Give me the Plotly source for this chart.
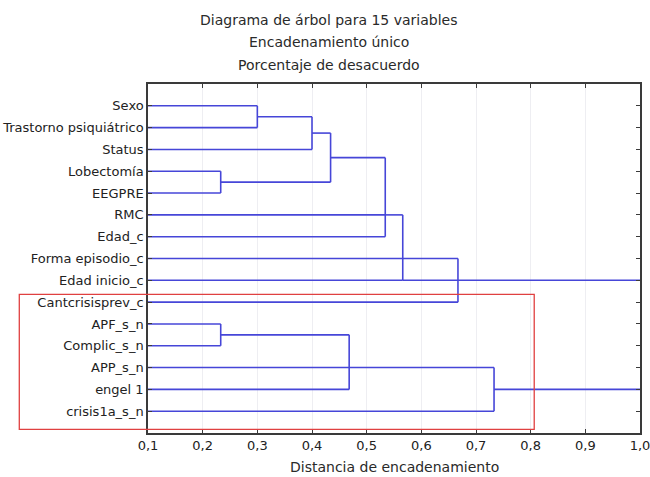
import plotly.graph_objects as go

# ---- data ----
labels = ["Sexo", "Trastorno psiquiátrico", "Status", "Lobectomía", "EEGPRE",
          "RMC", "Edad_c", "Forma episodio_c", "Edad inicio_c", "Cantcrisisprev_c",
          "APF_s_n", "Complic_s_n", "APP_s_n", "engel 1", "crisis1a_s_n"]
# merges (node ids: leaves 0..14, then 15, 16, ... in order of this list)
merge_children = [[0, 1], [15, 2], [3, 4], [16, 17], [18, 5, 6], [19, 8],
                  [20, 7, 9], [10, 11], [22, 12, 13], [23, 14]]
merge_h = [0.30, 0.40, 0.233, 0.434, 0.534, 0.566, 0.667,
           0.233, 0.468, 0.733]
x_ticks = [0.1, 0.2, 0.3, 0.4, 0.5, 0.6, 0.7, 0.8, 0.9, 1.0]
x_ticktext = ["0,1", "0,2", "0,3", "0,4", "0,5", "0,6", "0,7", "0,8", "0,9", "1,0"]
title_lines = ["Diagrama de árbol para 15 variables", "Encadenamiento único",
               "Porcentaje de desacuerdo"]
x_title = "Distancia de encadenamiento"
x_min, x_max = 0.1, 1.0

# ---- build segments (Statistica-like tree drawing) ----
n = len(labels)
ypos = {i: float(i) for i in range(n)}
xpos = {i: x_min for i in range(n)}
members = {i: {i} for i in range(n)}
roots = set(range(n))
xs, ys = [], []
for k, (ch, h) in enumerate(zip(merge_children, merge_h)):
    node = n + k
    for c in ch:
        xs += [xpos[c], h, None]
        ys += [ypos[c], ypos[c], None]
        roots.discard(c)
    cy = [ypos[c] for c in ch]
    xs += [h, h, None]
    ys += [min(cy), max(cy), None]
    mem = set().union(*[members[c] for c in ch])
    contiguous = (max(mem) - min(mem) + 1) == len(mem)
    if len(ch) == 2:
        ypos[node] = (cy[0] + cy[1]) / 2 if contiguous else max(cy)
    else:
        ypos[node] = sorted(cy)[len(cy) // 2]
    xpos[node] = h
    members[node] = mem
    roots.add(node)
# remaining clusters join beyond the axis limit
for r in sorted(roots):
    xs += [xpos[r], x_max, None]
    ys += [ypos[r], ypos[r], None]

LINE = "#4646D8"
fig = go.Figure()
fig.add_trace(go.Scatter(x=xs, y=ys, mode="lines",
                         line=dict(color=LINE, width=1.6),
                         hoverinfo="skip", showlegend=False))

axis_common = dict(showline=True, linecolor="#3a3a3a", linewidth=1.5, mirror="ticks",
                   ticks="inside", ticklen=4, tickcolor="#3a3a3a", tickwidth=1,
                   layer="above traces", zeroline=False, automargin=False,
                   ticklabeloverflow="allow",
                   tickfont=dict(family="DejaVu Sans", size=13, color="#222222"))

fig.update_layout(
    width=650, height=477,
    margin=dict(l=148, r=10, t=84, b=44),
    paper_bgcolor="white", plot_bgcolor="white",
    xaxis=dict(range=[x_min, x_max], tickvals=x_ticks, ticktext=x_ticktext,
               showgrid=True, gridcolor="#EEEEF2", gridwidth=1, **axis_common),
    yaxis=dict(range=[15, -1], tickvals=list(range(n)), ticktext=labels,
               showgrid=False, **axis_common),
    font=dict(family="DejaVu Sans", color="#222222"),
)

# title lines
title_y = [1.1834, 1.1195, 1.0544]
for t, yy in zip(title_lines, title_y):
    fig.add_annotation(text=t, xref="paper", yref="paper", x=0.368, y=yy,
                       xanchor="center", yanchor="middle", showarrow=False,
                       font=dict(family="DejaVu Sans", size=14, color="#2a2a2a"))

fig.add_annotation(text=x_title, xref="paper", yref="paper", x=0.5, y=-0.098,
                   xanchor="center", yanchor="middle", showarrow=False,
                   font=dict(family="DejaVu Sans", size=14, color="#2a2a2a"))

# red highlight rectangle
fig.add_shape(type="rect", xref="paper", yref="paper",
              x0=-0.2616, x1=0.785, y0=0.0106, y1=0.397,
              line=dict(color="#E04040", width=1.3), fillcolor="rgba(0,0,0,0)",
              layer="above")

fig.write_html("out.html")
